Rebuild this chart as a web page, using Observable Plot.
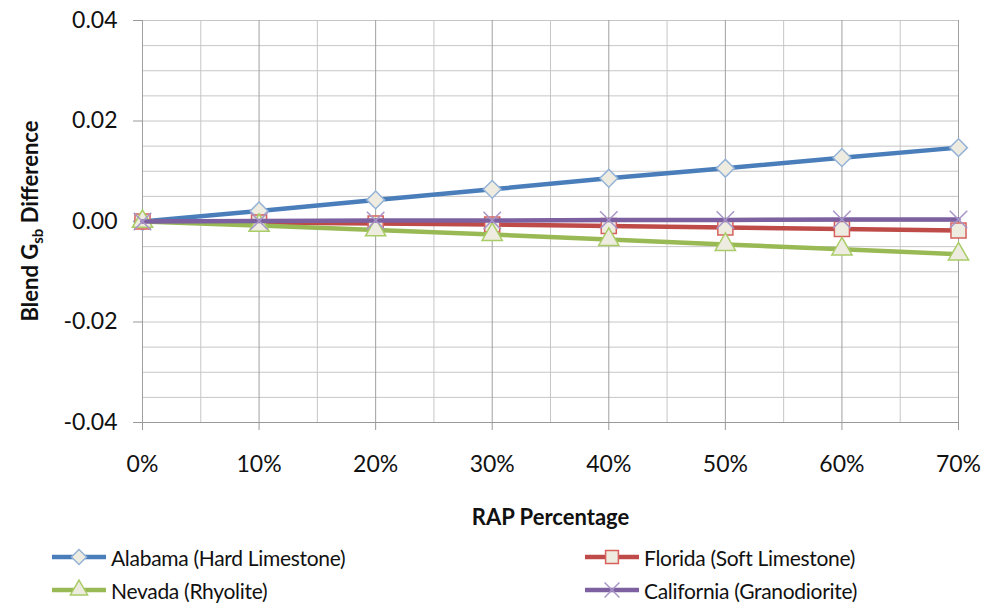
<!DOCTYPE html>
<html>
<head>
<meta charset="utf-8">
<script src="https://cdn.jsdelivr.net/npm/d3@7"></script>
<script src="https://cdn.jsdelivr.net/npm/@observablehq/plot@0.6"></script>
<style>
  html, body { margin: 0; padding: 0; background: #fff; }
  body { width: 986px; height: 605px; overflow: hidden; font-family: Lato, "Open Sans", sans-serif; }
  #legend { position: relative; height: 70px; }
  .item { position: absolute; display: flex; align-items: center; font-size: 21px; color: #111; letter-spacing: -0.3px; }
  .item svg { margin-right: 3px; }
</style>
</head>
<body>
<div id="chart"></div>
<div id="legend"></div>
<script>
// ---- data ----
const rap = [0, 10, 20, 30, 40, 50, 60, 70];
const seriesNames = ["Alabama (Hard Limestone)", "Florida (Soft Limestone)", "Nevada (Rhyolite)", "California (Granodiorite)"];
const alabama    = [0, 0.0021, 0.0043, 0.0064, 0.0086, 0.0106, 0.0127, 0.0147];
const florida    = [0, -0.0002, -0.0004, -0.0006, -0.0009, -0.0012, -0.0015, -0.0018];
const nevada     = [0, -0.0008, -0.0017, -0.0026, -0.0036, -0.0046, -0.0055, -0.0065];
const california = [0, 0.0001, 0.0002, 0.0002, 0.0003, 0.0003, 0.0004, 0.0004];
const yTicks = [-0.04, -0.02, 0, 0.02, 0.04];
const xTicks = [0, 10, 20, 30, 40, 50, 60, 70];
const xTitle = "RAP Percentage";

// ---- styling ----
const styles = [
  {line: "#4A7EBB", stroke: "#95B3D7", symbol: "diamond2", r: 8},
  {line: "#BE4B48", stroke: "#D8605C", symbol: "square", r: 8.5},
  {line: "#98B954", stroke: "#A9CC66", symbol: "triangle", r: 7.5},
  {line: "#7D60A0", stroke: "#A795C8", symbol: "times", r: 8}
];
const markerFill = "#EEECE1";
const allSeries = [alabama, florida, nevada, california];
const data = allSeries.map((vals, i) => rap.map((x, j) => ({x, y: vals[j], s: seriesNames[i]})));

const minorY = d3.range(-0.04, 0.0401, 0.005).map(v => +v.toFixed(3));
const minorX = d3.range(0, 71, 5);

const marks = [
  Plot.ruleY(minorY, {stroke: "#c6c6c6", strokeWidth: 1}),
  Plot.ruleX(minorX.filter(v => v % 10 !== 0), {stroke: "#c6c6c6", strokeWidth: 1}),
  Plot.ruleX(xTicks, {stroke: "#a0a0a0", strokeWidth: 1}),
  Plot.ruleY([-0.04], {stroke: "#999", strokeWidth: 1}),
  Plot.axisY({ticks: yTicks, tickFormat: d => d.toFixed(2), tickSize: 9, tickPadding: 16, fontSize: 23, label: null, stroke: "#999"}),
  Plot.axisX({ticks: xTicks, tickFormat: d => d + "%", tickSize: 8, tickPadding: 25, fontSize: 23, label: null, stroke: "#999"}),
  Plot.text([xTitle], {frameAnchor: "bottom", dy: 102, fontSize: 22, fontWeight: "bold", fill: "#111"})
];
data.forEach((d, i) => {
  const st = styles[i];
  marks.push(Plot.line(d, {x: "x", y: "y", stroke: st.line, strokeWidth: 4.5}));
  if (st.symbol === "times") {
    marks.push(Plot.dot(d, {x: "x", y: "y", symbol: "times", r: st.r, stroke: st.stroke, strokeWidth: 1.5}));
  } else {
    marks.push(Plot.dot(d, {x: "x", y: "y", symbol: st.symbol, r: st.r, fill: markerFill, stroke: st.stroke, strokeWidth: 1.5}));
  }
});

const chart = Plot.plot({
  width: 986,
  height: 535,
  marginLeft: 142,
  marginRight: 28,
  marginTop: 20,
  marginBottom: 113,
  style: {fontFamily: "Lato, 'Open Sans', sans-serif", color: "#111", background: "#fff", overflow: "visible"},
  x: {domain: [0, 70]},
  y: {domain: [-0.04, 0.04]},
  marks
});
document.getElementById("chart").appendChild(chart);

// y-axis title with subscript
const svg = d3.select(chart);
const yt = svg.append("text")
  .attr("transform", "translate(38,221) rotate(-90)")
  .attr("text-anchor", "middle")
  .attr("font-size", 22)
  .attr("font-weight", "bold")
  .attr("fill", "#111");
yt.append("tspan").text("Blend G");
yt.append("tspan").attr("font-size", 15).attr("dy", 5).text("sb");
yt.append("tspan").attr("dy", -5).text(" Difference");

// legend
const legend = d3.select("#legend");
const pos = [[52, 22], [585, 22], [52, 55], [585, 55]];
seriesNames.forEach((name, i) => {
  const st = styles[i];
  const item = legend.append("div").attr("class", "item")
    .style("left", pos[i][0] + "px").style("top", (pos[i][1] - 15) + "px").style("height", "30px");
  const s = item.append("svg").attr("width", 56).attr("height", 30);
  s.append("line").attr("x1", 0).attr("x2", 54).attr("y1", 15).attr("y2", 15)
    .attr("stroke", st.line).attr("stroke-width", 4.5);
  const sym = {diamond2: d3.symbolDiamond2, square: d3.symbolSquare, triangle: d3.symbolTriangle, times: d3.symbolTimes}[st.symbol];
  const lr = st.r * 0.85;
  const size = Math.PI * lr * lr;
  s.append("path").attr("d", d3.symbol(sym, size)()).attr("transform", "translate(27,15)")
    .attr("fill", st.symbol === "times" ? "none" : markerFill)
    .attr("stroke", st.stroke).attr("stroke-width", 1.5);
  item.append("span").text(name);
});
</script>
</body>
</html>
